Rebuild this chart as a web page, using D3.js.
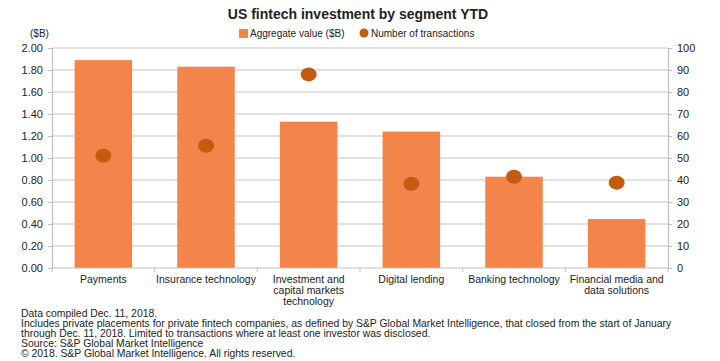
<!DOCTYPE html>
<html>
<head>
<meta charset="utf-8">
<script src="https://cdn.jsdelivr.net/npm/d3@7"></script>
<style>
  body { margin: 0; background: #fff; }
  svg { display: block; }
  text { font-family: "Liberation Sans", Arial, sans-serif; fill: #222; }
</style>
</head>
<body>
<div id="app"></div>
<script>
// Segment data.
var segments = [
	["Payments"],
	["Insurance technology"],
	["Investment and", "capital markets", "technology"],
	["Digital lending"],
	["Banking technology"],
	["Financial media and", "data solutions"]
];
var aggregateValue = [1.89, 1.83, 1.33, 1.24, 0.83, 0.445];	// $B
var numTransactions = [51, 55.6, 88, 38.3, 41.5, 38.8];
var leftTicks = [0, 0.2, 0.4, 0.6, 0.8, 1.0, 1.2, 1.4, 1.6, 1.8, 2.0];
var rightTicks = [0, 10, 20, 30, 40, 50, 60, 70, 80, 90, 100];
var footnotes = [
	"Data compiled Dec. 11, 2018.",
	"Includes private placements for private fintech companies, as defined by S&P Global Market Intelligence, that closed from the start of January",
	"through Dec. 11, 2018. Limited to transactions where at least one investor was disclosed.",
	"Source: S&P Global Market Intelligence",
	"\u00a9 2018. S&P Global Market Intelligence. All rights reserved."
];

var width = 720, height = 361;
var xL = 52, xR = 668, yTop = 48, yBot = 268;
var barColor = "#f4854a", dotColor = "#c55a11", gridColor = "#d9d9d9";

var vis = d3.select("#app").append("svg")
	.attr("width", width).attr("height", height);

var x = d3.scaleBand().domain(d3.range(segments.length)).range([xL, xR]).paddingInner(0.44).paddingOuter(0.22);
var yLeft = d3.scaleLinear().domain([0, 2]).range([yBot, yTop]);
var yRight = d3.scaleLinear().domain([0, 100]).range([yBot, yTop]);

// Gridlines
vis.append("g").selectAll("line").data(leftTicks.slice(1)).join("line")
	.attr("x1", xL).attr("x2", xR)
	.attr("y1", function (d) {return yLeft(d);}).attr("y2", function (d) {return yLeft(d);})
	.attr("stroke", gridColor).attr("stroke-width", 1.5);

// Left axis
var gl = vis.append("g").attr("transform", "translate(" + xL + ",0)")
	.call(d3.axisLeft(yLeft).tickValues(leftTicks).tickFormat(d3.format(".2f")).tickSize(4).tickPadding(5));
// Right axis
var gr = vis.append("g").attr("transform", "translate(" + xR + ",0)")
	.call(d3.axisRight(yRight).tickValues(rightTicks).tickSize(4).tickPadding(5));
[gl, gr].forEach(function (g) {
	g.select(".domain").attr("stroke", "#bfbfbf").attr("stroke-width", 1.2);
	g.selectAll(".tick line").attr("stroke", "#bfbfbf");
	g.selectAll(".tick text").style("font-size", "11px").attr("fill", "#222");
});

// Bars
vis.append("g").selectAll("rect").data(aggregateValue).join("rect")
	.attr("x", function (d, i) {return x(i);})
	.attr("width", x.bandwidth())
	.attr("y", function (d) {return yLeft(d);})
	.attr("height", function (d) {return yBot - yLeft(d);})
	.attr("fill", barColor);

// Baseline and category separators
vis.append("line").attr("x1", xL).attr("x2", xR).attr("y1", yBot).attr("y2", yBot)
	.attr("stroke", "#bfbfbf").attr("stroke-width", 1.2);
var step = (xR - xL) / segments.length;
vis.append("g").selectAll("line").data(d3.range(segments.length + 1)).join("line")
	.attr("x1", function (i) {return xL + i * step;}).attr("x2", function (i) {return xL + i * step;})
	.attr("y1", yBot).attr("y2", yBot + 4)
	.attr("stroke", "#bfbfbf");

// Dots
vis.append("g").selectAll("ellipse").data(numTransactions).join("ellipse")
	.attr("cx", function (d, i) {return x(i) + x.bandwidth() / 2;})
	.attr("cy", function (d) {return yRight(d);})
	.attr("rx", 8).attr("ry", 7)
	.attr("fill", dotColor);

// Category labels
var cat = vis.append("g").selectAll("text").data(segments).join("text")
	.attr("text-anchor", "middle")
	.attr("x", function (d, i) {return x(i) + x.bandwidth() / 2;})
	.attr("y", 283)
	.style("font-size", "10.5px");
cat.selectAll("tspan").data(function (d) {return d;}).join("tspan")
	.attr("x", function () {return d3.select(this.parentNode).attr("x");})
	.attr("dy", function (d, i) {return i ? 11 : 0;})
	.text(function (d) {return d;});

// Title, unit and legend
vis.append("text").attr("x", 358).attr("y", 19).attr("text-anchor", "middle")
	.style("font-size", "14px").style("font-weight", "bold").text("US fintech investment by segment YTD");
vis.append("text").attr("x", 30).attr("y", 37).style("font-size", "10px").text("($B)");
vis.append("rect").attr("x", 239).attr("y", 29).attr("width", 9).attr("height", 9).attr("fill", barColor);
vis.append("text").attr("x", 250).attr("y", 37).style("font-size", "10px").text("Aggregate value ($B)");
vis.append("circle").attr("cx", 364).attr("cy", 33).attr("r", 4.5).attr("fill", dotColor);
vis.append("text").attr("x", 371).attr("y", 37).style("font-size", "10px").text("Number of transactions");

// Footnotes
vis.append("g").selectAll("text").data(footnotes).join("text")
	.attr("x", 21).attr("y", function (d, i) {return 317 + i * 10;})
	.style("font-size", "10.4px")
	.text(function (d) {return d;});
</script>
</body>
</html>
